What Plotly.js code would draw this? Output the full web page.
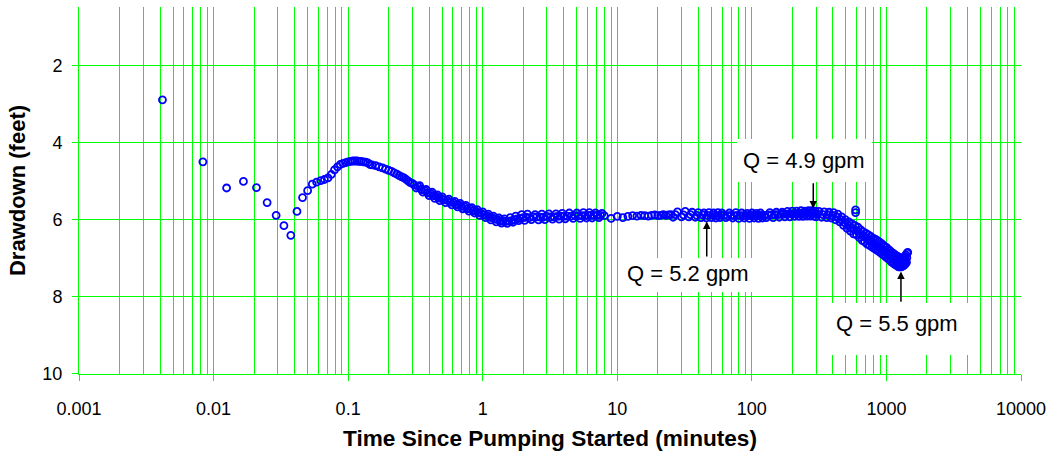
<!DOCTYPE html>
<html>
<head>
<meta charset="utf-8">
<script src="https://cdn.plot.ly/plotly-3.0.1.min.js"></script>
<style>html,body{margin:0;padding:0;background:#fff;}#chart{width:1054px;height:457px;}</style>
</head>
<body>
<div id="chart"></div>
<script>
// Early logger readings (every 0.25 s), minutes / feet
const tEarly = [0.00417,0.00833,0.0125,0.01667,0.02083,0.025,0.02917,0.03333,0.0375,0.04167,0.04583,0.05,0.05417,0.05833,0.0625,0.06667,0.07083,0.075,0.07917,0.08333,0.0875,0.09167,0.09583,0.1,0.10417,0.10833,0.1125,0.11667,0.12083,0.125];
const sEarly = [2.88,4.49,5.17,5.00,5.16,5.55,5.88,6.15,6.40,5.78,5.42,5.24,5.07,5.02,4.98,4.95,4.91,4.82,4.70,4.62,4.56,4.53,4.51,4.49,4.48,4.47,4.47,4.47,4.48,4.48];

// Dense readings 0.13 - 7.7 min
const tMid = [0.13,0.135,0.14,0.145,0.15,0.16,0.17,0.18,0.19,0.2,0.21,0.22,0.23,0.24,0.25,0.26,0.27,0.28,0.29,0.30,0.32,0.34,0.36,0.38,0.40,0.42,0.44,0.46,0.48,0.50,0.53,0.56,0.59,0.62,0.65,0.68,0.71,0.75,0.79,0.83,0.87,0.91,0.95,1.0,1.05,1.1,1.15,1.2,1.26,1.32,1.38,1.45,1.52,1.6,1.68,1.76,1.85,1.95,2.05,2.15,2.3,2.45,2.6,2.75,2.9,3.1,3.3,3.5,3.7,3.9,4.1,4.4,4.7,5.0,5.3,5.6,5.9,6.2,6.5,6.9,7.3,7.7];
const sMid = [4.49,4.50,4.52,4.56,4.57,4.59,4.62,4.65,4.68,4.71,4.74,4.78,4.81,4.85,4.88,4.91,4.95,4.99,5.03,5.05,5.17,5.11,5.28,5.21,5.37,5.28,5.44,5.35,5.50,5.40,5.55,5.46,5.61,5.52,5.66,5.57,5.71,5.62,5.77,5.68,5.82,5.73,5.88,5.79,5.94,5.85,6.00,5.90,6.05,5.95,6.08,5.97,6.09,5.94,6.06,5.90,6.02,5.86,6.01,5.85,5.99,5.86,6.00,5.85,5.99,5.84,5.98,5.84,5.98,5.83,5.97,5.82,5.96,5.82,5.96,5.81,5.95,5.81,5.95,5.82,5.94,5.83];
// In-between readings 0.31 - 7.5 min
const tMidB = [0.31,0.33,0.35,0.37,0.39,0.41,0.43,0.45,0.47,0.49,0.515,0.545,0.575,0.605,0.635,0.665,0.695,0.73,0.77,0.81,0.85,0.89,0.93,0.975,1.025,1.075,1.125,1.175,1.23,1.29,1.35,1.41,1.48,1.56,1.64,1.72,1.8,1.9,2.0,2.1,2.22,2.38,2.52,2.68,2.82,3.0,3.2,3.4,3.6,3.8,4.0,4.25,4.55,4.85,5.15,5.45,5.75,6.05,6.35,6.7,7.1,7.5];
const sMidB = [5.09,5.13,5.21,5.23,5.30,5.31,5.37,5.38,5.43,5.44,5.48,5.49,5.54,5.55,5.60,5.61,5.65,5.65,5.71,5.71,5.76,5.77,5.81,5.83,5.87,5.89,5.93,5.94,5.98,5.99,6.03,6.02,6.04,6.03,6.02,6.00,5.97,5.96,5.94,5.93,5.94,5.92,5.92,5.93,5.93,5.91,5.92,5.92,5.91,5.90,5.91,5.90,5.90,5.89,5.89,5.89,5.89,5.88,5.88,5.88,5.88,5.88];

// One-minute readings 8 - 25 min
const tMin = [8,9,10,11,12,13,14,15,16,17,18,19,20,21,22,23,24,25];
const sMin = [5.89,5.96,5.91,5.94,5.91,5.89,5.90,5.88,5.89,5.90,5.88,5.87,5.89,5.88,5.86,5.88,5.87,5.86];

// Readings 26 - 296 min
const tLong = [26,28,30,32,34,36,38,40,42,44,46,48,50,52,54,56,58,60,64,68,72,76,80,84,88,92,96,100,104,108,112,116,120,128,136,144,152,160,168,176,184,192,200,208,216,224,232,240,248,256,264,272,280,288,296];
const sLong = [5.93,5.79,5.92,5.78,5.92,5.80,5.93,5.81,5.94,5.82,5.95,5.81,5.94,5.82,5.95,5.81,5.94,5.82,5.94,5.82,5.95,5.81,5.96,5.82,5.95,5.83,5.96,5.82,5.95,5.83,5.96,5.82,5.95,5.94,5.81,5.94,5.80,5.93,5.80,5.92,5.78,5.92,5.77,5.91,5.77,5.91,5.76,5.91,5.77,5.90,5.76,5.90,5.76,5.90,5.77];
// In-between readings 27 - 292 min
const tLongB = [27,31,35,39,43,47,51,55,59,62,66,70,74,78,82,86,90,94,98,102,106,110,114,118,124,132,140,148,156,164,172,180,188,196,204,212,220,228,236,244,252,260,268,276,284,292];
const sLongB = [5.86,5.87,5.86,5.88,5.87,5.88,5.87,5.89,5.88,5.88,5.89,5.88,5.89,5.88,5.89,5.89,5.88,5.89,5.88,5.89,5.88,5.89,5.88,5.88,5.88,5.87,5.87,5.86,5.86,5.85,5.85,5.85,5.84,5.84,5.84,5.84,5.83,5.84,5.83,5.83,5.83,5.83,5.82,5.83,5.83,5.83];

// Readings 300 - 1440 min
const tLate = [300,315,330,345,360,375,390,405,420,435,450,465,480,495,510,525,540,555,570,585,600,615,630,645,660,675,690,705,720,735,750,765,780,795,810,825,840,855,870,885,900,915,930,945,960,975,990,1005,1020,1035,1050,1065,1080,1095,1110,1125,1140,1155,1170,1185,1200,1215,1230,1245,1260,1275,1290,1305,1320,1335,1350,1365,1380,1395,1410,1425,1440];
const sLate = [5.92,5.78,5.93,5.79,5.94,5.80,5.95,5.81,6.00,5.85,6.05,5.92,6.14,5.99,6.22,6.05,6.29,6.10,6.36,6.15,6.39,6.19,6.46,6.26,6.53,6.31,6.57,6.35,6.63,6.39,6.66,6.43,6.70,6.47,6.74,6.50,6.77,6.53,6.81,6.57,6.84,6.61,6.89,6.65,6.92,6.69,6.96,6.72,7.00,6.77,7.03,6.80,7.08,6.84,7.11,6.87,7.14,6.90,7.17,6.93,7.19,6.95,7.22,6.97,7.22,6.99,7.22,7.00,7.20,6.98,7.18,6.95,7.15,6.91,7.10,6.86,6.84];
// In-between readings 308 - 1418 min
const tLateB = [308,338,368,398,428,458,488,518,548,578,608,638,668,698,728,758,788,818,848,878,908,938,968,998,1028,1058,1088,1118,1148,1178,1208,1238,1268,1298,1328,1358,1388,1418];
const sLateB = [5.85,5.86,5.87,5.88,5.92,5.99,6.07,6.14,6.20,6.25,6.29,6.36,6.42,6.46,6.51,6.55,6.58,6.62,6.65,6.69,6.73,6.77,6.81,6.84,6.88,6.92,6.96,6.99,7.02,7.05,7.07,7.09,7.10,7.11,7.09,7.07,7.03,6.98];

// Stray readings near 590 min
const tStray = [590,590];
const sStray = [5.74,5.81];

// Axis tick labels
const xTickVals = [0.001,0.01,0.1,1,10,100,1000,10000];
const xTickText = ['0.001','0.01','0.1','1','10','100','1000','10000'];
const yTickVals = [2,4,6,8,10];

// Pumping-rate notes: label, arrow tip time (min), arrow tip drawdown (ft)
const noteText = ['Q = 4.9 gpm','Q = 5.2 gpm','Q = 5.5 gpm'];
const noteTime = [286, 46.2, 1282];
const noteDraw = [5.70, 6.04, 7.34];

const t = [].concat(tEarly, tMid, tMidB, tMin, tLong, tLongB, tLate, tLateB, tStray);
const s = [].concat(sEarly, sMid, sMidB, sMin, sLong, sLongB, sLate, sLateB, sStray);

const FONT = 'Liberation Sans, Arial, Helvetica, sans-serif';
const GREEN = '#00ff00';

const trace = {
  x: t, y: s, type: 'scatter', mode: 'markers',
  marker: {symbol: 'circle-open', size: 7, color: '#0000ff', line: {width: 1.8, color: '#0000ff'}},
  hoverinfo: 'x+y', showlegend: false
};

// layout helpers (pixels -> paper)
const L = 79, T = 7, W = 942, H = 367;
const px = v => (v - L) / W;
const py = v => (T + H - v) / H;

const boxes = [[737,139,872,182],[622,258,753,292],[830,303,972,355]];
const textPos = [[804,160.7],[688,273.3],[896.7,323.3]];
const arrowAy = [-26.6, 36.6, 31.6];

const shapes = boxes.map(b => ({
  type: 'rect', xref: 'paper', yref: 'paper', layer: 'above',
  x0: px(b[0]), x1: px(b[2]), y0: py(b[3]), y1: py(b[1]),
  fillcolor: '#ffffff', line: {width: 0}
}));

const annotations = [];
noteText.forEach((txt, i) => {
  annotations.push({
    xref: 'paper', yref: 'paper', x: px(textPos[i][0]), y: py(textPos[i][1]),
    xanchor: 'center', yanchor: 'middle', text: txt, showarrow: false,
    font: {family: FONT, size: 22, color: '#000'}
  });
  annotations.push({
    xref: 'x', yref: 'y', x: Math.log10(noteTime[i]), y: noteDraw[i],
    text: '', showarrow: true, ax: 0, ay: arrowAy[i],
    arrowhead: 2, arrowsize: 1, arrowwidth: 1.5, arrowcolor: '#000'
  });
});

const layout = {
  width: 1054, height: 457,
  margin: {l: L, r: 1054 - L - W, t: T, b: 457 - T - H},
  paper_bgcolor: '#fff', plot_bgcolor: '#fff',
  font: {family: FONT, size: 18, color: '#000'},
  xaxis: {
    type: 'log', range: [-3, 4], autorange: false,
    tickmode: 'array', tickvals: xTickVals, ticktext: xTickText,
    ticks: 'outside', ticklen: 6, tickcolor: GREEN, tickwidth: 1,
    ticklabelstandoff: 12,
    showgrid: true, gridcolor: GREEN, gridwidth: 1,
    minor: {dtick: 'D1', showgrid: true, gridcolor: GREEN, gridwidth: 1, ticks: ''},
    showline: true, linecolor: GREEN, linewidth: 1, zeroline: false,
    tickfont: {family: FONT, size: 18, color: '#000'},
    title: {text: 'Time Since Pumping Started (minutes)', font: {family: FONT, size: 22.6, color: '#000', weight: 'bold'}, standoff: 12}
  },
  yaxis: {
    range: [10.001, 0.47], autorange: false,
    tickmode: 'array', tickvals: yTickVals,
    ticks: 'outside', ticklen: 6, tickcolor: GREEN, tickwidth: 1,
    ticklabelstandoff: 6,
    showgrid: true, gridcolor: GREEN, gridwidth: 1,
    showline: true, linecolor: GREEN, linewidth: 1, zeroline: false,
    tickfont: {family: FONT, size: 18, color: '#000'},
    title: {text: 'Drawdown (feet)', font: {family: FONT, size: 22, color: '#000', weight: 'bold'}, standoff: 10}
  },
  shapes: shapes,
  annotations: annotations
};

Plotly.newPlot('chart', [trace], layout, {displayModeBar: false, staticPlot: true});
</script>
</body>
</html>
